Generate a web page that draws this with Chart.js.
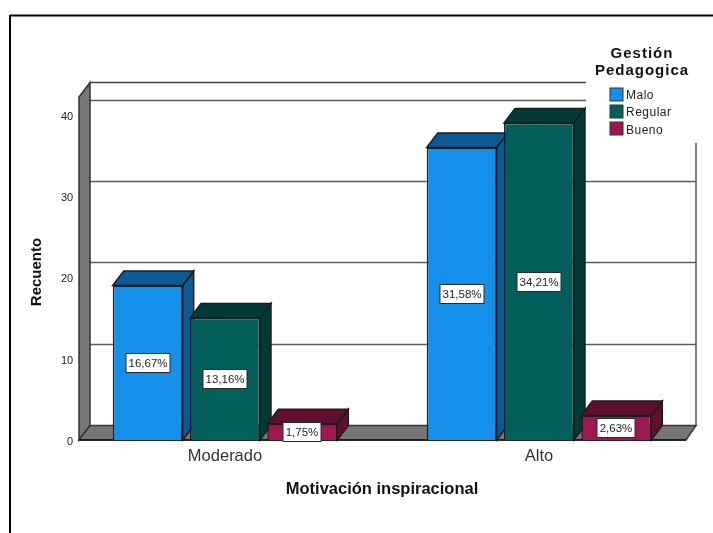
<!DOCTYPE html>
<html>
<head>
<meta charset="utf-8">
<style>
  html, body { margin: 0; background: #fff; }
  canvas { display: block; }
</style>
<script src="https://cdn.jsdelivr.net/npm/chart.js@4/dist/chart.umd.js"></script>
</head>
<body>
<canvas id="chart" width="713" height="533"></canvas>
<script>
const categories = ['Moderado', 'Alto'];
const seriesNames = ['Malo', 'Regular', 'Bueno'];
const malo = [19, 36];
const regular = [15, 39];
const bueno = [2, 3];
const maloLabels = ['16,67%', '31,58%'];
const regularLabels = ['13,16%', '34,21%'];
const buenoLabels = ['1,75%', '2,63%'];
const gridValues = [10, 20, 30, 40];
const legendTitle = ['Gestión', 'Pedagogica'];

const frontColors = ['#1490ea', '#025f5b', '#9e1652'];
const sideColors = ['#0b5a96', '#013a37', '#5f0e30'];
const outline = '#1c1c1c';
const fontName = '"Liberation Sans", Arial, sans-serif';

// depth of the 3D box
const depthX = 11;
const depthY = 14.5;

function poly(ctx, pts, fill, stroke, lw) {
  ctx.beginPath();
  pts.forEach((p, i) => i ? ctx.lineTo(p[0], p[1]) : ctx.moveTo(p[0], p[1]));
  ctx.closePath();
  if (fill) { ctx.fillStyle = fill; ctx.fill(); }
  if (stroke) { ctx.strokeStyle = stroke; ctx.lineWidth = lw || 1; ctx.stroke(); }
}

function line(ctx, x1, y1, x2, y2, color, lw) {
  ctx.beginPath();
  ctx.moveTo(x1, y1);
  ctx.lineTo(x2, y2);
  ctx.strokeStyle = color;
  ctx.lineWidth = lw;
  ctx.stroke();
}

const box3d = {
  id: 'box3d',
  beforeDatasetsDraw(chart) {
    const { ctx, chartArea: a, scales: { y } } = chart;
    const floorL = a.left + depthX;
    const floorR = a.right - 10;
    const backL = floorL + depthX;
    const backR = a.right;
    const base = y.getPixelForValue(0);
    const top = a.top;
    ctx.save();

    // outer frame, runs off the page on the right and bottom
    line(ctx, 10, 15.5, 713, 15.5, '#000', 2);
    line(ctx, 10, 15, 10, 533, '#000', 2);

    // back wall and gridlines
    line(ctx, backL, top - depthY, backR, top - depthY, '#444', 1.5);
    line(ctx, backR, top - depthY, backR, base - depthY, '#555', 1.5);
    gridValues.forEach(v => {
      const gy = Math.floor(y.getPixelForValue(v) - depthY) + 0.5;
      line(ctx, backL, gy, backR, gy, '#5c5c5c', 1.5);
    });

    // left wall and floor
    poly(ctx, [[floorL, top], [backL, top - depthY], [backL, base - depthY], [floorL, base]], '#767676', '#333', 1.5);
    poly(ctx, [[floorL, base], [backL, base - depthY], [backR, base - depthY], [floorR, base]], '#767676', '#333', 1.5);
    line(ctx, floorL, base, floorR, base, '#111', 1.5);

    // side and top faces of the bars, the front faces come from the bar elements
    chart.data.datasets.forEach((ds, i) => {
      chart.getDatasetMeta(i).data.forEach(bar => {
        const l = bar.x - bar.width / 2;
        const r = bar.x + bar.width / 2;
        const t = bar.y;
        const b = bar.base;
        poly(ctx, [[r, t], [r + depthX, t - depthY], [r + depthX, b - depthY], [r, b]], sideColors[i], outline, 1.5);
        poly(ctx, [[l, t], [l + depthX, t - depthY], [r + depthX, t - depthY], [r, t]], sideColors[i], outline, 1.5);
      });
    });
    ctx.restore();
  },
  afterDatasetsDraw(chart) {
    const { ctx } = chart;
    ctx.save();

    // white blank behind the legend hides the top of the walls
    ctx.fillStyle = '#fff';
    ctx.fillRect(586, 30, 120, 113);

    // value boxes in the centre of each front face
    ctx.font = '11.5px ' + fontName;
    ctx.textAlign = 'center';
    ctx.textBaseline = 'middle';
    chart.data.datasets.forEach((ds, i) => {
      chart.getDatasetMeta(i).data.forEach((bar, j) => {
        const cy = Math.round((bar.y + bar.base) / 2);
        const cx = Math.round(bar.x);
        const w = Math.round(ctx.measureText(ds.pctLabels[j]).width) + 5;
        ctx.fillStyle = '#fff';
        ctx.strokeStyle = '#2a2a2a';
        ctx.lineWidth = 1;
        ctx.fillRect(cx - w / 2, cy - 9.5, w, 19);
        ctx.strokeRect(cx - w / 2, cy - 9.5, w, 19);
        ctx.fillStyle = '#222';
        ctx.fillText(ds.pctLabels[j], cx, cy + 0.5);
      });
    });

    // axis title on the left
    ctx.save();
    ctx.translate(37, 272);
    ctx.rotate(-Math.PI / 2);
    ctx.font = 'bold 15px ' + fontName;
    ctx.fillStyle = '#111';
    ctx.fillText('Recuento', 0, 0);
    ctx.restore();

    // legend
    ctx.fillStyle = '#111';
    ctx.font = 'bold 15px ' + fontName;
    ctx.letterSpacing = '1px';
    legendTitle.forEach((t, i) => ctx.fillText(t, 642, 54 + i * 17));
    ctx.letterSpacing = '0px';
    ctx.textAlign = 'left';
    ctx.font = '12px ' + fontName;
    ctx.letterSpacing = '0.5px';
    seriesNames.forEach((name, i) => {
      const sy = 88 + i * 17;
      ctx.fillStyle = frontColors[i];
      ctx.fillRect(610, sy, 13, 13);
      ctx.strokeStyle = '#333';
      ctx.lineWidth = 1;
      ctx.strokeRect(610, sy, 13, 13);
      ctx.fillStyle = '#222';
      ctx.fillText(name, 626, sy + 7.5 + i * 0.5);
    });
    ctx.restore();
  }
};

const seriesValues = [malo, regular, bueno];
const seriesLabels = [maloLabels, regularLabels, buenoLabels];

new Chart(document.getElementById('chart'), {
  type: 'bar',
  data: {
    labels: categories,
    datasets: seriesNames.map((name, i) => ({
      label: name,
      data: seriesValues[i],
      pctLabels: seriesLabels[i],
      backgroundColor: frontColors[i],
      borderColor: outline,
      borderWidth: 1.5,
      categoryPercentage: 0.7385,
      barPercentage: 0.905
    }))
  },
  plugins: [box3d],
  options: {
    responsive: false,
    animation: false,
    layout: { padding: { top: 97, right: 17, left: 0, bottom: 0 } },
    plugins: { legend: { display: false }, tooltip: { enabled: false } },
    scales: {
      x: {
        afterFit(axis) { axis.height = 93; },
        grid: { display: false, drawTicks: false },
        border: { display: false },
        ticks: { color: '#333', padding: 7, font: { family: fontName, size: 16.5 } },
        title: {
          display: true,
          text: 'Motivación inspiracional',
          color: '#111',
          font: { family: fontName, size: 16.5, weight: 'bold' },
          padding: { top: 0, bottom: 34 }
        }
      },
      y: {
        min: 0,
        max: 42.2,
        afterFit(axis) { axis.width = 68; },
        grid: { display: false, drawTicks: false },
        border: { display: false },
        ticks: {
          stepSize: 10,
          includeBounds: false,
          color: '#222',
          mirror: true,
          crossAlign: 'far',
          padding: -7,
          labelOffset: 2,
          font: { family: fontName, size: 11 }
        }
      }
    }
  }
});
</script>
</body>
</html>
